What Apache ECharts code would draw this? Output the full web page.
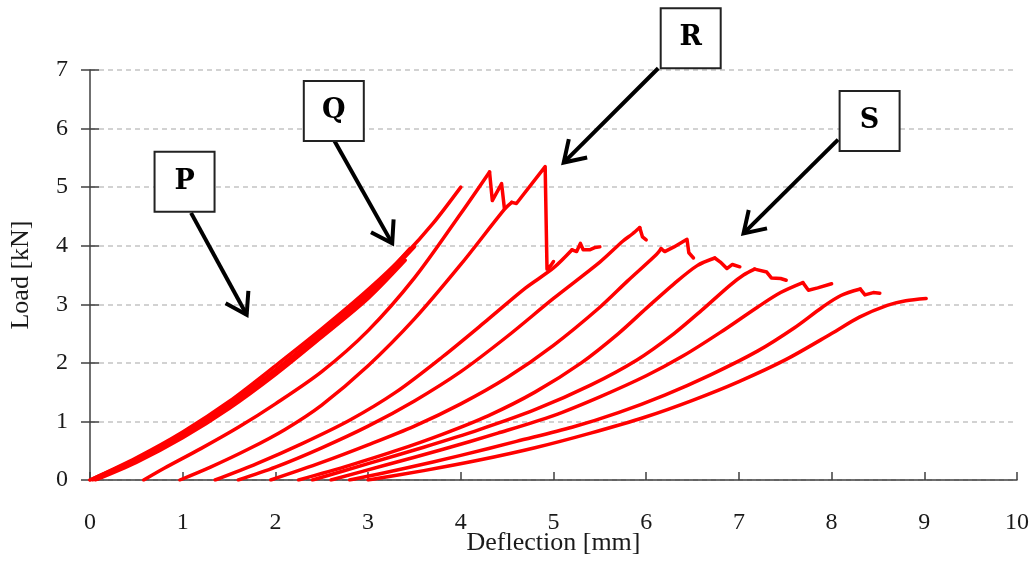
<!DOCTYPE html>
<html>
<head>
<meta charset="utf-8">
<script src="https://cdn.jsdelivr.net/npm/echarts@6/dist/echarts.min.js"></script>
<style>
  html, body { margin: 0; padding: 0; background: #ffffff; }
  #chart { width: 1036px; height: 562px; }
</style>
</head>
<body>
<div id="chart"></div>
<script>
// Load–deflection loading branches, [deflection mm, load kN]
const curveP1 = [[0,0],[0.5,0.36],[1.0,0.8],[1.5,1.3],[2.0,1.88],[2.5,2.52],[3.0,3.2],[3.45,3.95]];
const curveP2 = [[0.03,0],[0.5,0.33],[1.0,0.76],[1.5,1.26],[2.0,1.84],[2.5,2.48],[3.0,3.16],[3.5,3.98]];
const curveP3 = [[0.06,0],[0.5,0.3],[1.0,0.72],[1.5,1.22],[2.0,1.8],[2.5,2.44],[3.0,3.1],[3.4,3.75]];
const curveA = [[0,0],[0.5,0.38],[1.0,0.82],[1.5,1.34],[2.0,1.95],[2.5,2.58],[3.0,3.25],[3.4,3.85],[3.7,4.38],[4.0,5.0]];
const curveB = [[0.58,0],[0.8,0.2],[1.2,0.54],[1.6,0.9],[2.0,1.3],[2.5,1.85],[3.0,2.55],[3.5,3.45],[4.0,4.55],[4.31,5.26],[4.34,4.77],[4.44,5.06],[4.47,4.64]];
const curveC = [[0.97,0],[1.3,0.22],[1.7,0.52],[2.1,0.86],[2.5,1.28],[3.0,1.95],[3.5,2.75],[4.0,3.68],[4.47,4.62],[4.55,4.74],[4.6,4.72],[4.91,5.35],[4.93,3.6],[4.97,3.66],[5.0,3.73]];
const curveD = [[1.35,0],[1.8,0.28],[2.3,0.63],[2.8,1.02],[3.3,1.5],[3.8,2.1],[4.3,2.75],[4.7,3.28],[5.0,3.62],[5.2,3.93],[5.25,3.9],[5.29,4.04],[5.32,3.93],[5.39,3.93],[5.45,3.97],[5.5,3.98]];
const curveE = [[1.6,0],[2.0,0.22],[2.5,0.55],[3.0,0.92],[3.5,1.35],[4.0,1.85],[4.5,2.45],[5.0,3.1],[5.5,3.72],[5.75,4.08],[5.85,4.2],[5.93,4.31],[5.96,4.15],[6.0,4.1]];
const curveF = [[1.95,0],[2.5,0.3],[3.0,0.6],[3.5,0.92],[4.0,1.3],[4.5,1.75],[5.0,2.3],[5.5,2.95],[5.8,3.4],[6.11,3.85],[6.16,3.95],[6.2,3.9],[6.3,3.98],[6.44,4.11],[6.46,3.88],[6.51,3.79]];
const curveG = [[2.25,0],[2.8,0.25],[3.3,0.5],[3.8,0.78],[4.3,1.1],[4.8,1.5],[5.3,2.0],[5.7,2.5],[6.0,2.93],[6.3,3.35],[6.55,3.66],[6.74,3.79],[6.8,3.72],[6.87,3.61],[6.93,3.68],[7.01,3.64]];
const curveH = [[2.4,0],[3.0,0.28],[3.6,0.56],[4.2,0.86],[4.8,1.2],[5.4,1.62],[5.9,2.05],[6.3,2.5],[6.6,2.9],[6.9,3.32],[7.05,3.5],[7.17,3.6],[7.3,3.55],[7.35,3.45],[7.45,3.44],[7.51,3.41]];
const curveI = [[2.6,0],[3.2,0.26],[3.8,0.52],[4.4,0.8],[5.0,1.1],[5.5,1.42],[6.0,1.78],[6.4,2.12],[6.8,2.52],[7.2,2.95],[7.45,3.2],[7.69,3.37],[7.75,3.24],[7.85,3.28],[8.0,3.35]];
const curveJ = [[2.8,0],[3.4,0.2],[4.0,0.42],[4.6,0.66],[5.2,0.9],[5.7,1.15],[6.2,1.45],[6.7,1.8],[7.2,2.2],[7.6,2.6],[7.9,2.95],[8.1,3.15],[8.31,3.26],[8.36,3.16],[8.45,3.2],[8.52,3.19]];
const curveK = [[3.0,0],[3.6,0.16],[4.2,0.34],[4.8,0.55],[5.4,0.8],[6.0,1.08],[6.5,1.36],[7.0,1.68],[7.5,2.05],[8.0,2.5],[8.3,2.78],[8.6,2.98],[8.8,3.06],[9.02,3.1]];

const curves = [curveP1, curveP2, curveP3, curveA, curveB, curveC, curveD, curveE, curveF, curveG, curveH, curveI, curveJ, curveK];

const xTicks = [0, 1, 2, 3, 4, 5, 6, 7, 8, 9, 10];
const yTicks = [0, 1, 2, 3, 4, 5, 6, 7];

// Callout boxes: label, box centre and arrow (start -> tip), in data units
const calloutLabels = ['P', 'Q', 'R', 'S'];
const calloutBoxes = [[1.02, 5.09], [2.63, 6.30], [6.48, 7.54], [8.41, 6.13]];
const arrowStarts = [[1.09, 4.56], [2.63, 5.81], [6.13, 7.03], [8.07, 5.81]];
const arrowTips = [[1.69, 2.82], [3.26, 4.04], [5.11, 5.42], [7.05, 4.21]];

const SERIF = '"Liberation Serif", "DejaVu Serif", serif';
const AXIS_COLOR = '#404040';
const TEXT_COLOR = '#1a1a1a';
const RED = '#ff0000';

const chart = echarts.init(document.getElementById('chart'), null, { renderer: 'canvas' });

// Each branch is drawn as a smooth rising part up to its first load drop,
// followed by a straight-segment part for the jagged peak region.
function lineSeries(pts, smooth) {
  return {
    type: 'line',
    data: pts,
    showSymbol: false,
    symbol: 'none',
    smooth: smooth,
    lineStyle: { color: RED, width: 3.5, join: 'round', cap: 'round' },
    z: 3,
    silent: true,
    animation: false
  };
}

const series = [];
curves.forEach(function (pts) {
  let k = pts.length;
  for (let i = 1; i < pts.length; i++) {
    if (pts[i][1] < pts[i - 1][1]) { k = i; break; }
  }
  series.push(lineSeries(pts.slice(0, k), 0.3));
  if (k < pts.length) series.push(lineSeries(pts.slice(k - 1), false));
});

chart.setOption({
  animation: false,
  backgroundColor: '#ffffff',
  grid: { left: 90, right: 19, top: 70, bottom: 82, containLabel: false, outerBoundsMode: 'none' },
  xAxis: {
    type: 'value',
    min: xTicks[0], max: xTicks[xTicks.length - 1], interval: 1,
    name: 'Deflection [mm]',
    nameLocation: 'middle',
    nameGap: 50,
    nameMoveOverlap: false,
    nameTextStyle: { fontFamily: SERIF, fontSize: 26, color: TEXT_COLOR },
    axisLine: { show: true, onZero: false, lineStyle: { color: AXIS_COLOR, width: 1.5 } },
    axisTick: { show: true, inside: true, length: 8, lineStyle: { color: AXIS_COLOR, width: 1.5 } },
    axisLabel: { margin: 31, fontFamily: SERIF, fontSize: 24, color: TEXT_COLOR },
    splitLine: { show: false }
  },
  yAxis: [{
    type: 'value',
    min: yTicks[0], max: yTicks[yTicks.length - 1], interval: 1,
    name: 'Load [kN]',
    nameLocation: 'middle',
    nameGap: 56,
    nameMoveOverlap: false,
    nameRotate: 90,
    nameTextStyle: { fontFamily: SERIF, fontSize: 26, color: TEXT_COLOR },
    axisLine: { show: true, onZero: false, lineStyle: { color: AXIS_COLOR, width: 1.5 } },
    axisTick: { show: true, length: 9, lineStyle: { color: AXIS_COLOR, width: 1.5 } },
    axisLabel: { margin: 22, fontFamily: SERIF, fontSize: 24, color: TEXT_COLOR },
    splitLine: { show: true, lineStyle: { color: '#c4c4c4', width: 1.5, type: [5, 4] } }
  }, {
    type: 'value',
    position: 'left',
    min: yTicks[0], max: yTicks[yTicks.length - 1], interval: 1,
    axisLine: { show: false },
    axisTick: { show: true, inside: true, length: 9, lineStyle: { color: AXIS_COLOR, width: 1.5 } },
    axisLabel: { show: false },
    splitLine: { show: false }
  }],
  series: series
});

// Callout boxes and arrows placed through the grid's coordinate system
function px(pt) { return chart.convertToPixel({ gridIndex: 0 }, pt); }

const graphics = [];
calloutLabels.forEach(function (label, i) {
  const c = px(calloutBoxes[i]);
  const s = px(arrowStarts[i]);
  const t = px(arrowTips[i]);
  graphics.push({
    type: 'line',
    shape: { x1: s[0], y1: s[1], x2: t[0], y2: t[1] },
    style: { stroke: '#000', lineWidth: 4, lineCap: 'butt' },
    z: 20
  });
  const ang = Math.atan2(t[1] - s[1], t[0] - s[0]);
  const L = 24, spread = Math.PI / 5.5;
  const a1 = [t[0] - L * Math.cos(ang - spread), t[1] - L * Math.sin(ang - spread)];
  const a2 = [t[0] - L * Math.cos(ang + spread), t[1] - L * Math.sin(ang + spread)];
  graphics.push({
    type: 'polyline',
    shape: { points: [a1, t, a2] },
    style: { stroke: '#000', lineWidth: 4, fill: null, lineJoin: 'miter' },
    z: 20
  });
  graphics.push({
    type: 'rect',
    shape: { x: c[0] - 30, y: c[1] - 30, width: 60, height: 60 },
    style: { fill: '#fff', stroke: '#222', lineWidth: 2 },
    z: 21
  });
  graphics.push({
    type: 'text',
    x: c[0], y: c[1],
    style: {
      text: label, fill: '#000',
      font: 'bold 27px "DejaVu Serif", serif',
      align: 'center', verticalAlign: 'middle'
    },
    z: 22
  });
});
chart.setOption({ graphic: graphics });
</script>
</body>
</html>
